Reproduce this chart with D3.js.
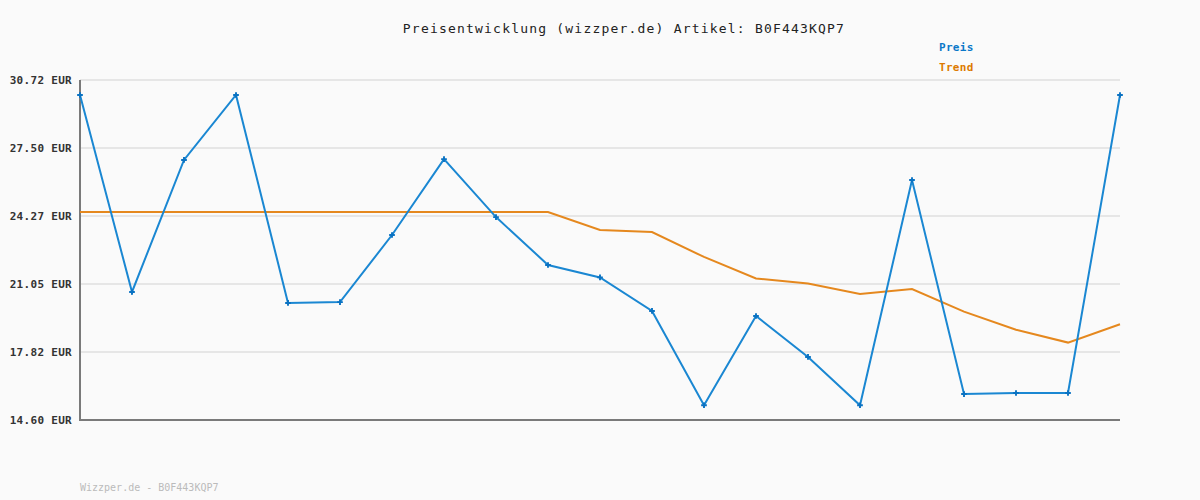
<!DOCTYPE html>
<html>
<head>
<meta charset="utf-8">
<script src="https://cdn.jsdelivr.net/npm/d3@7"></script>
<style>
body { margin:0; background:#fafafa; }
svg { display:block; }
text { font-family:"DejaVu Sans Mono", monospace; }
</style>
</head>
<body>
<div id="chart"></div>
<script>
// Preis und Trend
var preis = [30.01, 20.67, 26.93, 30.01, 20.15, 20.19, 23.37, 26.97, 24.22, 21.95, 21.36,
             19.77, 15.30, 19.53, 17.59, 15.30, 25.98, 15.83, 15.88, 15.88, 30.01];
var trend = [24.46, 24.46, 24.46, 24.46, 24.46, 24.46, 24.46, 24.46, 24.46, 24.46, 23.61,
             23.51, 22.33, 21.31, 21.07, 20.57, 20.81, 19.74, 18.88, 18.27, 19.14];
var yTicks = [14.60, 17.82, 21.05, 24.27, 27.50, 30.72];
var legendNames = ["Preis", "Trend"];
var colors = {"Preis": "#1a87d2", "Trend": "#e5881e"};

var width = 1200, height = 500;
var pLeft = 80, pRight = 1120, pTop = 80, pBottom = 420;

var svg = d3.select("#chart").append("svg")
    .attr("width", width)
    .attr("height", height);

svg.append("rect").attr("width", width).attr("height", height).attr("fill", "#fafafa");

var x = d3.scaleLinear().domain([0, preis.length - 1]).range([pLeft, pRight]);
var y = d3.scaleLinear().domain([14.60, 30.72]).range([pBottom, pTop]);

// gitter
svg.selectAll("line.grid")
    .data(yTicks.slice(1))
    .enter()
    .append("line")
    .attr("class", "grid")
    .attr("x1", pLeft).attr("x2", pRight)
    .attr("y1", function(d){ return y(d); })
    .attr("y2", function(d){ return y(d); })
    .attr("stroke", "#e6e6e6")
    .attr("stroke-width", 2);

// achsen
var yAxis = d3.axisLeft(y)
    .tickValues(yTicks)
    .tickSize(0)
    .tickPadding(8)
    .tickFormat(function(d){ return d.toFixed(2) + " EUR"; });

var gy = svg.append("g")
    .attr("transform", "translate(" + pLeft + ",0)")
    .call(yAxis);
gy.select(".domain").remove();
gy.selectAll("text")
    .attr("fill", "#333")
    .attr("font-size", "11px")
    .attr("font-weight", "bold")
    .style("letter-spacing", "0.3px")
    .style("font-family", "'DejaVu Sans Mono', monospace");

svg.append("line")
    .attr("x1", pLeft).attr("x2", pLeft)
    .attr("y1", pTop).attr("y2", pBottom + 1)
    .attr("stroke", "#7a7a7a").attr("stroke-width", 2);
svg.append("line")
    .attr("x1", pLeft - 1).attr("x2", pRight)
    .attr("y1", pBottom).attr("y2", pBottom)
    .attr("stroke", "#7a7a7a").attr("stroke-width", 2);

var line = d3.line()
    .x(function(d, i){ return x(i); })
    .y(function(d){ return y(d); });

svg.append("path")
    .datum(trend)
    .attr("fill", "none")
    .attr("stroke", colors["Trend"])
    .attr("stroke-width", 2)
    .attr("d", line);

svg.append("path")
    .datum(preis)
    .attr("fill", "none")
    .attr("stroke", colors["Preis"])
    .attr("stroke-width", 2)
    .attr("d", line);

svg.selectAll("path.pt")
    .data(preis)
    .enter()
    .append("path")
    .attr("class", "pt")
    .attr("d", d3.symbol().type(d3.symbolCross).size(18))
    .attr("transform", function(d, i){ return "translate(" + x(i) + "," + y(d) + ")"; })
    .attr("fill", "#0a72c2");

// titel
svg.append("text")
    .attr("x", 624).attr("y", 33)
    .attr("text-anchor", "middle")
    .attr("font-size", "13px")
    .style("letter-spacing", "1.2px")
    .attr("fill", "#222")
    .text("Preisentwicklung (wizzper.de) Artikel: B0F443KQP7");

// legende
svg.selectAll("text.leg")
    .data(legendNames)
    .enter()
    .append("text")
    .attr("class", "leg")
    .attr("x", 939)
    .attr("y", function(d, i){ return 51 + i * 20; })
    .attr("font-size", "11px")
    .attr("font-weight", "bold")
    .style("letter-spacing", "0.3px")
    .attr("fill", function(d){ return d == "Preis" ? "#0a78c8" : "#dd7a00"; })
    .text(function(d){ return d; });

// fusszeile
svg.append("text")
    .attr("x", 80).attr("y", 491)
    .attr("font-size", "10px")
    .attr("fill", "#bbb")
    .text("Wizzper.de - B0F443KQP7");
</script>
</body>
</html>
